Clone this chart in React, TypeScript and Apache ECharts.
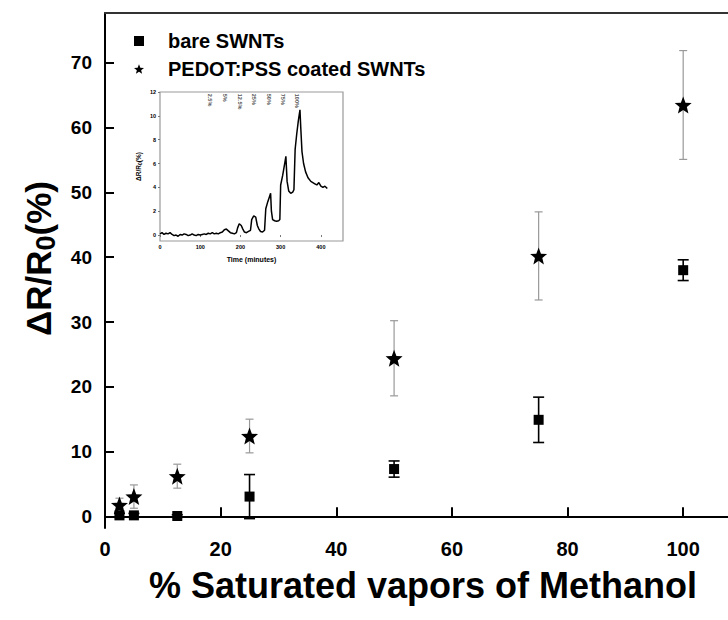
import React, { useEffect, useRef } from "react";
import * as echarts from "echarts";

// ---- main chart data ----
const concentrations = [2.5, 5, 12.5, 25, 50, 75, 100];
const bareValues = [0.15, 0.15, 0.05, 3.05, 7.3, 14.9, 38.0];
const bareErrors = [0.3, 0.3, 0.2, 3.4, 1.25, 3.5, 1.6];
const pedotValues = [1.75, 3.05, 6.2, 12.4, 24.4, 40.2, 63.5];
const pedotErrors = [1.05, 1.8, 1.85, 2.6, 5.8, 6.8, 8.4];
const yTicks = [0, 10, 20, 30, 40, 50, 60, 70];
const xTicks = [0, 20, 40, 60, 80, 100];

// ---- inset data (time in minutes, response in %) ----
const insetTime = [
  0, 5, 10, 15, 20, 25, 30, 35, 40, 45, 50, 55, 60, 65, 70, 75, 80, 85, 90, 95,
  100, 105, 110, 115, 120, 125, 130, 135, 140, 145, 150, 155, 160, 165, 170, 175,
  180, 185, 190, 193, 197, 202, 206, 210, 215, 220, 225, 228, 233, 238, 242, 246,
  250, 255, 260, 263, 268, 272, 275, 277, 280, 285, 290, 295, 298, 300, 305, 310,
  313, 316, 320, 325, 330, 333, 336, 340, 344, 348, 350, 353, 357, 362, 368, 375,
  380, 385, 390, 395, 400, 405, 410, 416,
];
const insetResponse = [
  0.1, 0.2, 0.05, 0.15, 0.1, 0.2, 0.05, -0.05, 0.0, -0.1, 0.05, 0.0, 0.1, 0.05,
  -0.05, 0.0, 0.1, 0.0, -0.05, 0.05, 0.0, 0.05, 0.1, 0.05, 0.15, 0.1, 0.2, 0.1,
  0.15, 0.1, 0.2, 0.25, 0.45, 0.5, 0.35, 0.2, 0.15, 0.1, 0.2, 0.6, 0.95, 0.8, 0.5,
  0.25, 0.2, 0.3, 0.4, 1.3, 1.6, 1.5, 0.8, 0.5, 0.3, 0.25, 0.4, 2.2, 2.8, 3.2, 3.5,
  2.0, 1.3, 1.2, 1.15, 1.2, 1.3, 4.2, 5.0, 6.0, 6.6, 4.5, 3.7, 3.5, 3.6, 3.8, 7.2,
  8.5, 9.6, 10.5, 9.0, 7.0, 6.0, 5.3, 4.8, 4.5, 4.4, 4.3, 4.2, 4.4, 4.1, 4.0, 4.1,
  3.9,
];
const bandStarts = [118, 155, 191, 226, 263, 297, 332];
const bandEnds = [133, 170, 206, 240, 277, 313, 348];
const bandLabels = ["2.5%", "5%", "12.5%", "25%", "50%", "75%", "100%"];
const insetXTicks = [0, 100, 200, 300, 400];
const insetYTicks = [0, 2, 4, 6, 8, 10, 12];

const FONT = "'Liberation Sans', Arial, Helvetica, sans-serif";
const STAR =
  "path://M0,-10 L2.6,-3.4 L9.51,-3.09 L4.1,1.3 L5.88,8.09 L0,4.3 L-5.88,8.09 L-4.1,1.3 L-9.51,-3.09 L-2.6,-3.4 Z";

function errorSeries(values: number[], errors: number[], color: string, width: number, cap: number) {
  return {
    type: "custom",
    xAxisIndex: 0,
    yAxisIndex: 0,
    silent: true,
    z: 1,
    data: concentrations.map((x, i) => [x, values[i] - errors[i], values[i] + errors[i]]),
    encode: { x: 0, y: [1, 2] },
    renderItem: (_params: any, api: any) => {
      const x = api.value(0);
      const lo = api.coord([x, api.value(1)]);
      const hi = api.coord([x, api.value(2)]);
      const style = { stroke: color, lineWidth: width };
      return {
        type: "group",
        children: [
          { type: "line", shape: { x1: hi[0], y1: hi[1], x2: lo[0], y2: lo[1] }, style },
          { type: "line", shape: { x1: hi[0] - cap, y1: hi[1], x2: hi[0] + cap, y2: hi[1] }, style },
          { type: "line", shape: { x1: lo[0] - cap, y1: lo[1], x2: lo[0] + cap, y2: lo[1] }, style },
        ],
      };
    },
  };
}

export default function App() {
  const ref = useRef<HTMLDivElement>(null);
  useEffect(() => {
    if (!ref.current) return;
    const chart = echarts.init(ref.current, undefined, { renderer: "svg" });
    const option: any = {
      animation: false,
      backgroundColor: "#fff",
      textStyle: { fontFamily: FONT },
      legend: {
        left: 129,
        top: 26,
        orient: "vertical",
        itemWidth: 10,
        itemHeight: 10,
        itemGap: 8,
        selectedMode: false,
        itemStyle: { opacity: 1 },
        textStyle: { fontFamily: FONT, fontSize: 20, fontWeight: "bold", color: "#000", padding: [0, 0, 0, 19] },
        data: [
          { name: "bare SWNTs", icon: "rect" },
          { name: "PEDOT:PSS coated SWNTs", icon: STAR },
        ],
      },
      grid: [
        { left: 105, top: 13, width: 636, height: 515, containLabel: false },
        {
          left: 160,
          top: 92,
          width: 183,
          height: 149,
          show: true,
          backgroundColor: "#fff",
          borderColor: "#999",
          borderWidth: 1.2,
          z: 5,
        },
      ],
      xAxis: [
        {
          type: "value",
          gridIndex: 0,
          min: 0,
          max: 110,
          position: "bottom",
          axisLine: { show: true, lineStyle: { color: "#000", width: 2 } },
          axisTick: { show: true, inside: true, length: 9, lineStyle: { color: "#000", width: 2 }, customValues: xTicks },
          axisLabel: {
            customValues: xTicks,
            margin: 11,
            fontSize: 20,
            fontWeight: "bold",
            color: "#000",
            fontFamily: FONT,
          },
          splitLine: { show: false },
          name: "% Saturated vapors of Methanol",
          nameLocation: "middle",
          nameGap: 39,
          nameTextStyle: { fontSize: 36, fontWeight: "bold", color: "#000", fontFamily: FONT },
        },
        {
          type: "value",
          gridIndex: 1,
          min: 0,
          max: 455,
          axisLine: { show: false },
          axisTick: { show: true, inside: false, length: 2, lineStyle: { color: "#777", width: 1 }, customValues: insetXTicks },
          axisLabel: { customValues: insetXTicks, margin: 3, fontSize: 5.5, fontWeight: "bold", color: "#000" },
          splitLine: { show: false },
          name: "Time (minutes)",
          nameLocation: "middle",
          nameGap: 15,
          nameTextStyle: { fontSize: 7, fontWeight: "bold", color: "#000" },
          z: 6,
        },
        {
          type: "value",
          gridIndex: 0,
          min: 0,
          max: 110,
          position: "top",
          axisLine: { show: true, lineStyle: { color: "#333", width: 2 } },
          axisTick: { show: false },
          axisLabel: { show: false },
          splitLine: { show: false },
        },
      ],
      yAxis: [
        {
          type: "value",
          gridIndex: 0,
          min: -1.8,
          max: 77.7,
          axisLine: { show: true, lineStyle: { color: "#000", width: 2 } },
          axisTick: { show: true, inside: true, length: 9, lineStyle: { color: "#000", width: 2 }, customValues: yTicks },
          axisLabel: {
            customValues: yTicks,
            margin: 13,
            fontSize: 19,
            fontWeight: "bold",
            color: "#000",
            fontFamily: FONT,
          },
          splitLine: { show: false },
          name: "ΔR/R{sub|0}(%)",
          nameLocation: "middle",
          nameGap: 40,
          nameTextStyle: {
            fontSize: 35,
            fontWeight: "bold",
            color: "#000",
            fontFamily: FONT,
            padding: [0, 0, 0, 24],
            rich: {
              sub: { fontSize: 27, fontWeight: "bold", color: "#000", fontFamily: FONT, padding: [16, 0, 0, 0] },
            },
          },
        },
        {
          type: "value",
          gridIndex: 1,
          min: -0.5,
          max: 12,
          axisLine: { show: false },
          axisTick: { show: true, inside: false, length: 2, lineStyle: { color: "#777", width: 1 }, customValues: insetYTicks },
          axisLabel: { customValues: insetYTicks, margin: 4, fontSize: 5.5, fontWeight: "bold", color: "#000" },
          splitLine: { show: false },
          name: "ΔR/R{sub|0}(%)",
          nameLocation: "middle",
          nameGap: 18,
          nameTextStyle: {
            fontSize: 6.5,
            fontWeight: "bold",
            color: "#000",
            rich: { sub: { fontSize: 5, fontWeight: "bold", color: "#000", padding: [3, 0, 0, 0] } },
          },
          z: 6,
        },
      ],
      series: [
        errorSeries(bareValues, bareErrors, "#000", 1.6, 5.5),
        errorSeries(pedotValues, pedotErrors, "#999", 1.2, 4),
        {
          name: "bare SWNTs",
          type: "scatter",
          xAxisIndex: 0,
          yAxisIndex: 0,
          symbol: "rect",
          symbolSize: 10,
          itemStyle: { color: "#000", opacity: 1 },
          z: 3,
          data: concentrations.map((x, i) => [x, bareValues[i]]),
        },
        {
          name: "PEDOT:PSS coated SWNTs",
          type: "scatter",
          xAxisIndex: 0,
          yAxisIndex: 0,
          symbol: STAR,
          symbolSize: 17,
          itemStyle: { color: "#000", opacity: 1 },
          z: 3,
          data: concentrations.map((x, i) => [x, pedotValues[i]]),
        },
        {
          name: "inset",
          type: "line",
          xAxisIndex: 1,
          yAxisIndex: 1,
          showSymbol: false,
          symbol: "none",
          lineStyle: { color: "#000", width: 1.5 },
          z: 7,
          data: insetTime.map((t, i) => [t, insetResponse[i]]),
          markArea: {
            silent: true,
            itemStyle: { color: "#c8c8c8" },
            label: { show: false },
            data: bandStarts.map((s, i) => [{ xAxis: s }, { xAxis: bandEnds[i] }]),
          },
        },
        {
          name: "bandLabels",
          type: "scatter",
          xAxisIndex: 1,
          yAxisIndex: 1,
          symbolSize: 0,
          silent: true,
          z: 8,
          data: bandStarts.map((s, i) => [(s + bandEnds[i]) / 2, 11.85]),
          label: {
            show: true,
            position: "inside",
            formatter: (p: any) => bandLabels[p.dataIndex],
            rotate: -90,
            align: "left",
            verticalAlign: "middle",
            fontSize: 5.5,
            color: "#222",
            fontWeight: "bold",
          },
        },
      ],
    };
    chart.setOption(option);
    return () => chart.dispose();
  }, []);
  return (
    <div style={{ position: "absolute", left: 0, top: 0, width: 728, height: 620, overflow: "hidden" }}>
      <div ref={ref} style={{ width: 760, height: 620 }} />
    </div>
  );
}
